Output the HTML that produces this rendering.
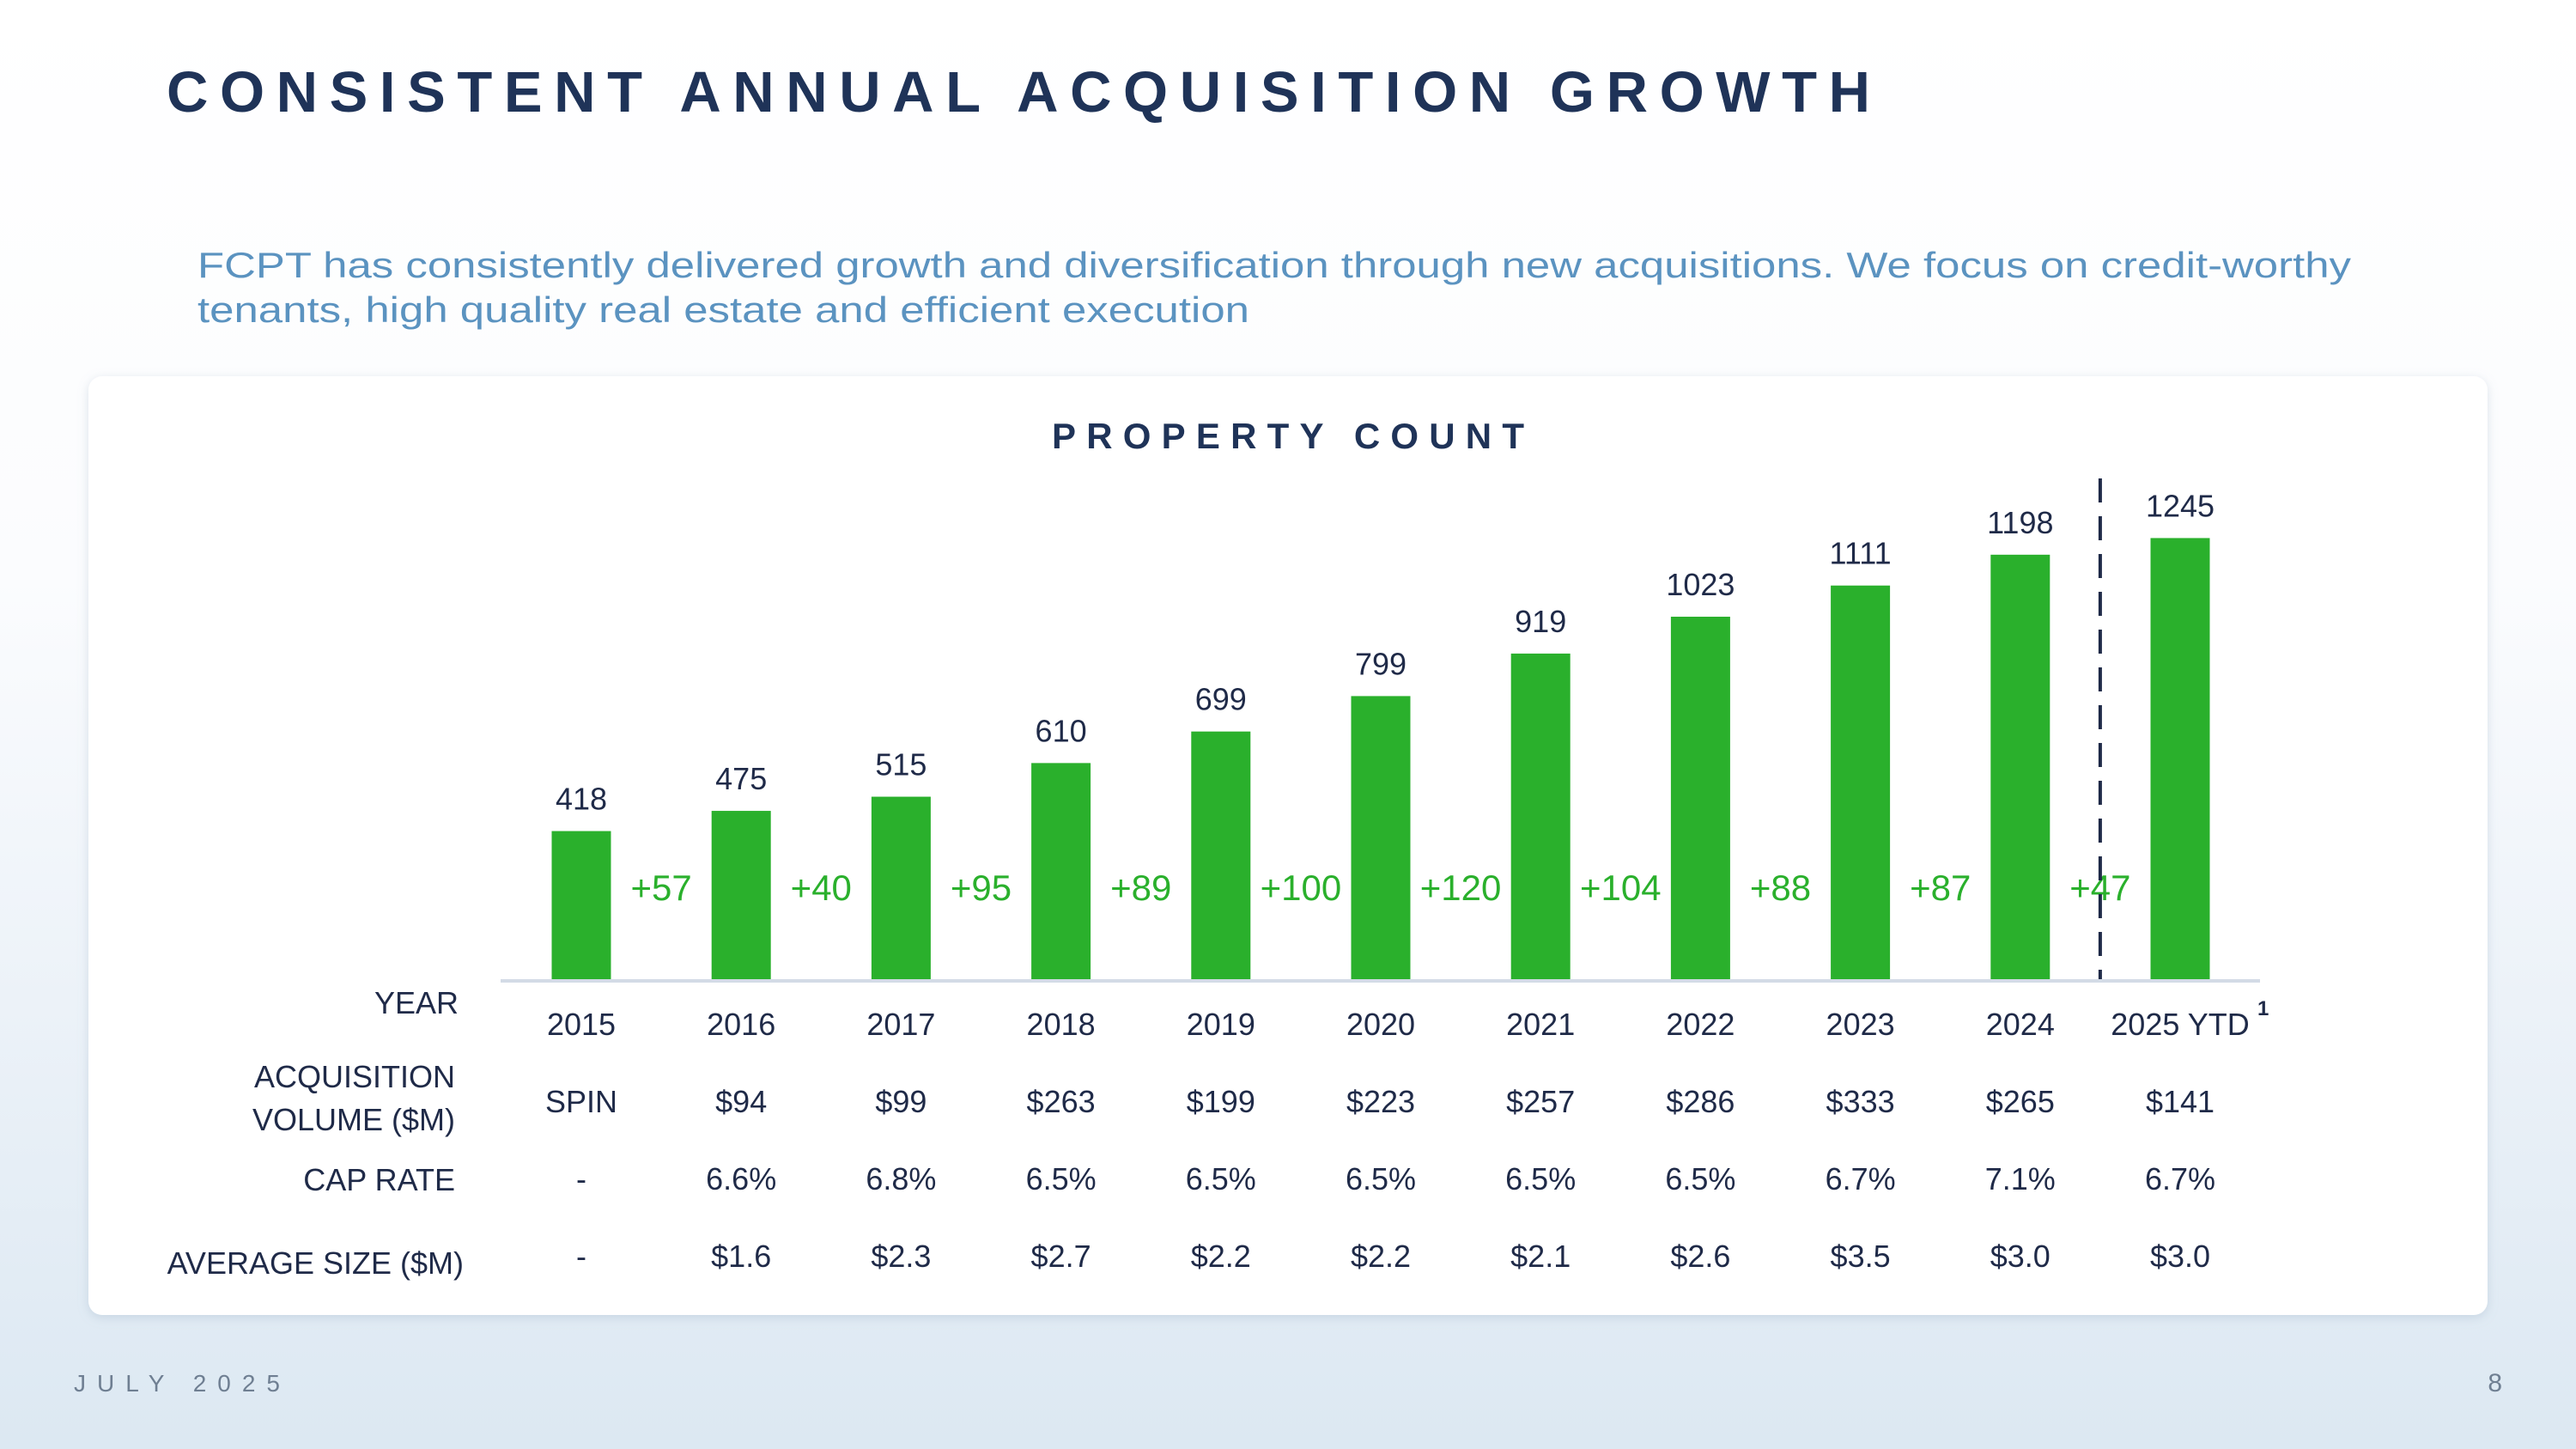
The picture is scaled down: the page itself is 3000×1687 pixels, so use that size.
<!DOCTYPE html>
<html><head><meta charset="utf-8">
<style>
html,body{margin:0;padding:0;}
body{width:3000px;height:1687px;overflow:hidden;background:linear-gradient(180deg,#ffffff 0%,#fbfcfe 40%,#e9f0f7 75%,#dce8f2 100%);font-family:"Liberation Sans",sans-serif;}
svg{display:block;}
</style></head>
<body>
<svg id="chart" width="3000" height="1687" viewBox="0 0 3000 1687" xmlns="http://www.w3.org/2000/svg">
<defs>
<filter id="sh" x="-5%" y="-5%" width="110%" height="115%"><feDropShadow dx="0" dy="3" stdDeviation="6" flood-color="#8aa2bb" flood-opacity="0.3"/></filter>
</defs>
<text x="194" y="130" font-size="67" font-weight="bold" fill="#1f3358" textLength="1984" lengthAdjust="spacing">CONSISTENT ANNUAL ACQUISITION GROWTH</text>
<text x="230" y="323" font-size="42" fill="#5b93c0" textLength="2508" lengthAdjust="spacingAndGlyphs">FCPT has consistently delivered growth and diversification through new acquisitions.  We focus on credit-worthy</text>
<text x="230" y="375" font-size="42" fill="#5b93c0" textLength="1225" lengthAdjust="spacingAndGlyphs">tenants, high quality real estate and efficient execution</text>
<rect x="103" y="438" width="2794" height="1093" rx="16" fill="#ffffff" filter="url(#sh)"/>
<text x="1500" y="522" font-size="42" font-weight="bold" fill="#1f3358" text-anchor="middle" textLength="550" lengthAdjust="spacing">PROPERTY COUNT</text>
<line x1="583" y1="1142" x2="2632" y2="1142" stroke="#d3dbe6" stroke-width="4"/>
<g id="bars"></g>
<g id="table"></g>
<text x="534" y="1180" font-size="36" fill="#1f2a48" text-anchor="end">YEAR</text>
<text x="530" y="1266" font-size="36" fill="#1f2a48" text-anchor="end">ACQUISITION</text>
<text x="530" y="1316" font-size="36" fill="#1f2a48" text-anchor="end">VOLUME ($M)</text>
<text x="530" y="1386" font-size="36" fill="#1f2a48" text-anchor="end">CAP RATE</text>
<text x="540" y="1483" font-size="36" fill="#1f2a48" text-anchor="end">AVERAGE SIZE ($M)</text>
<text x="86" y="1620" font-size="28" fill="#6f7f92" textLength="240" lengthAdjust="spacing">JULY 2025</text>
<text x="2914" y="1620" font-size="30" fill="#6f7f92" text-anchor="end">8</text>
</svg>
<script>
const years = ["2015","2016","2017","2018","2019","2020","2021","2022","2023","2024","2025 YTD"];
const counts = [418,475,515,610,699,799,919,1023,1111,1198,1245];
const deltas = ["+57","+40","+95","+89","+100","+120","+104","+88","+87","+47"];
const volumes = ["SPIN","$94","$99","$263","$199","$223","$257","$286","$333","$265","$141"];
const capRates = ["-","6.6%","6.8%","6.5%","6.5%","6.5%","6.5%","6.5%","6.7%","7.1%","6.7%"];
const avgSizes = ["-","$1.6","$2.3","$2.7","$2.2","$2.2","$2.1","$2.6","$3.5","$3.0","$3.0"];

const NS = "http://www.w3.org/2000/svg";
const baseY = 1140, x0 = 677, step = 186.2, bw = 69;
const xPos = i => x0 + i * step;
const yPos = v => baseY - v * 0.4125;
function mk(tag, attrs, parent, txt){
  const e = document.createElementNS(NS, tag);
  for (const k in attrs) e.setAttribute(k, attrs[k]);
  if (txt !== undefined) e.textContent = txt;
  parent.appendChild(e); return e;
}
const bars = document.getElementById("bars");
const table = document.getElementById("table");
counts.forEach((v, i) => {
  const r = mk("rect", {x: xPos(i) - bw/2, y: yPos(v), width: bw, height: baseY - yPos(v), fill: "#2ab02c"}, bars);
  
  
  const t = mk("text", {x: xPos(i), y: yPos(v) - 25, "font-size": 36, fill: "#1f2a48", "text-anchor": "middle"}, bars, String(v));
  
  
});
deltas.forEach((d, i) => {
  const t = mk("text", {x: xPos(i) + step/2, y: 1048, "font-size": 42, fill: "#2ab02c", "text-anchor": "middle"}, bars, d);
  
  
});
const dl = mk("line", {x1: xPos(9) + step/2, y1: 557, x2: xPos(9) + step/2, y2: 1140, stroke: "#1f2a48", "stroke-width": 4, "stroke-dasharray": "28,16"}, bars);


const rows = [[years, 1205, 'year'], [volumes, 1295, 'volume'], [capRates, 1385, 'cap-rate'], [avgSizes, 1475, 'avg-size']];
rows.forEach(([arr, y, nm]) => {
  arr.forEach((s, i) => {
    const t = mk("text", {x: xPos(i), y: y, "font-size": 36, fill: "#1f2a48", "text-anchor": "middle"}, table, s);
    
    
  });
});
const fn = mk("text", {x: xPos(10) + 90, y: 1182, "font-size": 24, "font-weight": "bold", fill: "#1f2a48"}, table, "1");


</script>
</body></html>
